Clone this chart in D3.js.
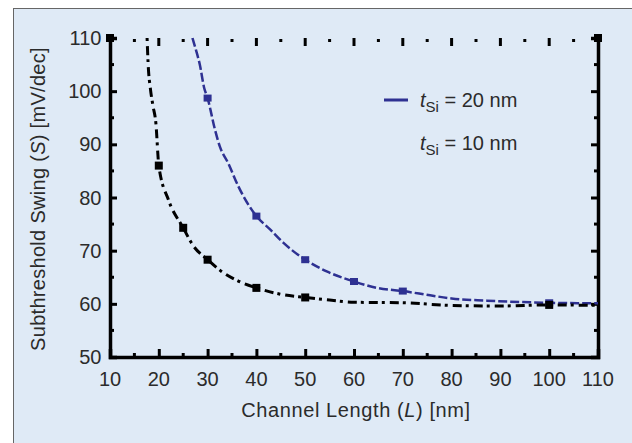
<!DOCTYPE html>
<html>
<head>
    <meta charset="utf-8">
    <script src="https://cdn.jsdelivr.net/npm/d3@7"></script>
    <style>
        body { margin: 0; background: #fff; }
        text { font-family: "Liberation Sans", Arial, sans-serif; fill: #2b2b2b; }
    </style>
</head>
<body>
    <svg width="632" height="443" id="mainsvg"></svg>
    <script>
        // data
        const lengths10 = [17.6, 17.8, 18.3, 18.8, 19.4, 20, 22, 25, 27, 30, 33, 36, 40, 45, 50, 55, 60, 70, 80, 90, 100, 110];
        const swing10   = [110, 105.4, 100.3, 97.3, 94, 86, 79.5, 74.3, 71, 68.3, 66, 64.4, 63, 61.8, 61.2, 60.7, 60.3, 60.2, 59.7, 59.6, 59.8, 59.7];
        const lengths20 = [26.9, 27.6, 28.4, 29.3, 30, 31.5, 32.5, 34.2, 36.3, 40, 42.8, 45.5, 50, 54.4, 60, 64.7, 70, 75.6, 80, 87.2, 100, 110];
        const swing20   = [110, 107.8, 105, 100.6, 98.7, 92.8, 89.6, 86.5, 82.1, 76.5, 74, 71.5, 68.3, 66.1, 64.2, 63, 62.4, 61.6, 61, 60.6, 60.2, 60.1];
        const markers10 = [20, 25, 30, 40, 50, 100];
        const markers20 = [30, 40, 50, 60, 70, 100];
        const xTicks = [10, 20, 30, 40, 50, 60, 70, 80, 90, 100, 110];
        const yTicks = [50, 60, 70, 80, 90, 100, 110];
        const legendLabels = ['20 nm', '10 nm'];

        const svg = d3.select('svg');
        const margin = { top: 38, right: 34, bottom: 86, left: 110 };
        const width = +svg.attr('width');
        const height = +svg.attr('height');
        const innerWidth = width - margin.left - margin.right;
        const innerHeight = height - margin.top - margin.bottom;
        const fs = 20;

        // panel
        svg.append('rect').attr('x', 13.5).attr('y', 8.5).attr('width', 640).attr('height', 450)
            .attr('fill', '#dfeaf6').attr('stroke', '#666').attr('stroke-width', 1);

        const g = svg.append('g').attr('transform', `translate(${margin.left}, ${margin.top})`);
        const xScale = d3.scaleLinear().domain([10, 110]).range([0, innerWidth]);
        const yScale = d3.scaleLinear().domain([50, 110]).range([innerHeight, 0]);

        const minorX = d3.range(15, 110, 10);
        const minorY = d3.range(55, 110, 10);

        // axes (lines and ticks), labels added below
        const xAxis = g.append('g').attr('transform', `translate(0, ${innerHeight})`)
            .call(d3.axisBottom(xScale).tickValues(xTicks).tickSize(-8).tickFormat(''));
        const yAxis = g.append('g')
            .call(d3.axisLeft(yScale).tickValues(yTicks).tickSize(-7).tickFormat(''));
        const rAxis = g.append('g').attr('transform', `translate(${innerWidth}, 0)`)
            .call(d3.axisRight(yScale).tickValues(yTicks).tickSize(-7).tickFormat(''));
        [xAxis, yAxis, rAxis].forEach(a => {
            a.selectAll('.tick text').remove();
            a.select('.domain').attr('stroke', '#000').attr('stroke-width', 3.5);
            a.selectAll('.tick line').attr('stroke', '#000').attr('stroke-width', 3);
        });
        g.append('g').selectAll('text').data(xTicks).join('text')
            .attr('x', d => xScale(d)).attr('y', innerHeight + 29)
            .attr('text-anchor', 'middle').attr('font-size', fs).text(d => d);
        g.append('g').selectAll('text').data(yTicks).join('text')
            .attr('x', -8.5).attr('y', d => yScale(d) + 7)
            .attr('text-anchor', 'end').attr('font-size', fs).text(d => d);

        // minor ticks
        g.append('g').selectAll('line').data(minorX).join('line')
            .attr('x1', d => xScale(d)).attr('x2', d => xScale(d))
            .attr('y1', innerHeight).attr('y2', innerHeight - 4)
            .attr('stroke', '#000').attr('stroke-width', 3);
        g.append('g').selectAll('line').data(minorY).join('line')
            .attr('x1', 0).attr('x2', 4)
            .attr('y1', d => yScale(d)).attr('y2', d => yScale(d))
            .attr('stroke', '#000').attr('stroke-width', 3);
        g.append('g').selectAll('line').data(minorY).join('line')
            .attr('x1', innerWidth).attr('x2', innerWidth - 4)
            .attr('y1', d => yScale(d)).attr('y2', d => yScale(d))
            .attr('stroke', '#000').attr('stroke-width', 3);
        // top ticks only (no line)
        g.append('g').selectAll('line').data(xTicks.slice(1, -1)).join('line')
            .attr('x1', d => xScale(d)).attr('x2', d => xScale(d))
            .attr('y1', 0).attr('y2', 8)
            .attr('stroke', '#000').attr('stroke-width', 3);
        g.append('g').selectAll('line').data(minorX).join('line')
            .attr('x1', d => xScale(d)).attr('x2', d => xScale(d))
            .attr('y1', 1).attr('y2', 4)
            .attr('stroke', '#000').attr('stroke-width', 3);
        // corner squares
        g.append('g').selectAll('rect').data([[10, 110], [110, 110]]).join('rect')
            .attr('x', d => xScale(d[0]) - 4).attr('y', d => yScale(d[1]) - 4)
            .attr('width', 8).attr('height', 8).attr('fill', '#000');

        // curves
        const line = d3.line().x(d => xScale(d[0])).y(d => yScale(d[1])).curve(d3.curveMonotoneX);
        const data10 = lengths10.map((l, i) => [l, swing10[i]]);
        const data20 = lengths20.map((l, i) => [l, swing20[i]]);
        const interp = (data, x) => {
            for (let i = 1; i < data.length; i++) {
                if (data[i][0] >= x) {
                    const t = (x - data[i - 1][0]) / (data[i][0] - data[i - 1][0]);
                    return data[i - 1][1] + t * (data[i][1] - data[i - 1][1]);
                }
            }
            return data[data.length - 1][1];
        };

        g.append('path').datum(data20).attr('d', line)
            .attr('fill', 'none').attr('stroke', '#2e3192').attr('stroke-width', 2.5)
            .attr('stroke-dasharray', '9,3');
        g.append('path').datum(data10).attr('d', line)
            .attr('fill', 'none').attr('stroke', '#000').attr('stroke-width', 3)
            .attr('stroke-dasharray', '3,5,9,4');

        g.append('g').selectAll('rect').data(markers20).join('rect')
            .attr('x', d => xScale(d) - 4).attr('y', d => yScale(interp(data20, d)) - 3.5)
            .attr('width', 8).attr('height', 7).attr('fill', '#2e3192');
        g.append('g').selectAll('rect').data(markers10).join('rect')
            .attr('x', d => xScale(d) - 4).attr('y', d => yScale(interp(data10, d)) - 4)
            .attr('width', 8).attr('height', 8).attr('fill', '#000');

        // legend
        const legend = svg.append('g');
        legend.append('line').attr('x1', 384).attr('x2', 408).attr('y1', 100).attr('y2', 100)
            .attr('stroke', '#2e3192').attr('stroke-width', 3);
        legendLabels.forEach((lab, i) => {
            const t = legend.append('text').attr('x', 420).attr('y', 107 + i * 43).attr('font-size', fs);
            t.append('tspan').attr('font-style', 'italic').text('t');
            t.append('tspan').attr('font-size', 15).attr('dy', 5).text('Si');
            t.append('tspan').attr('dy', -5).text(` = ${lab}`);
        });

        // titles
        const xt = svg.append('text').attr('x', 356).attr('y', 417)
            .attr('text-anchor', 'middle').attr('font-size', fs).attr('letter-spacing', 0.6);
        xt.append('tspan').text('Channel Length (');
        xt.append('tspan').attr('font-style', 'italic').text('L');
        xt.append('tspan').text(') [nm]');

        const yt = svg.append('text').attr('transform', `translate(45, 199) rotate(-90)`)
            .attr('text-anchor', 'middle').attr('font-size', fs).attr('letter-spacing', 0.3);
        yt.append('tspan').text('Subthreshold Swing (');
        yt.append('tspan').attr('font-style', 'italic').text('S');
        yt.append('tspan').text(') [mV/dec]');
    </script>
</body>
</html>
